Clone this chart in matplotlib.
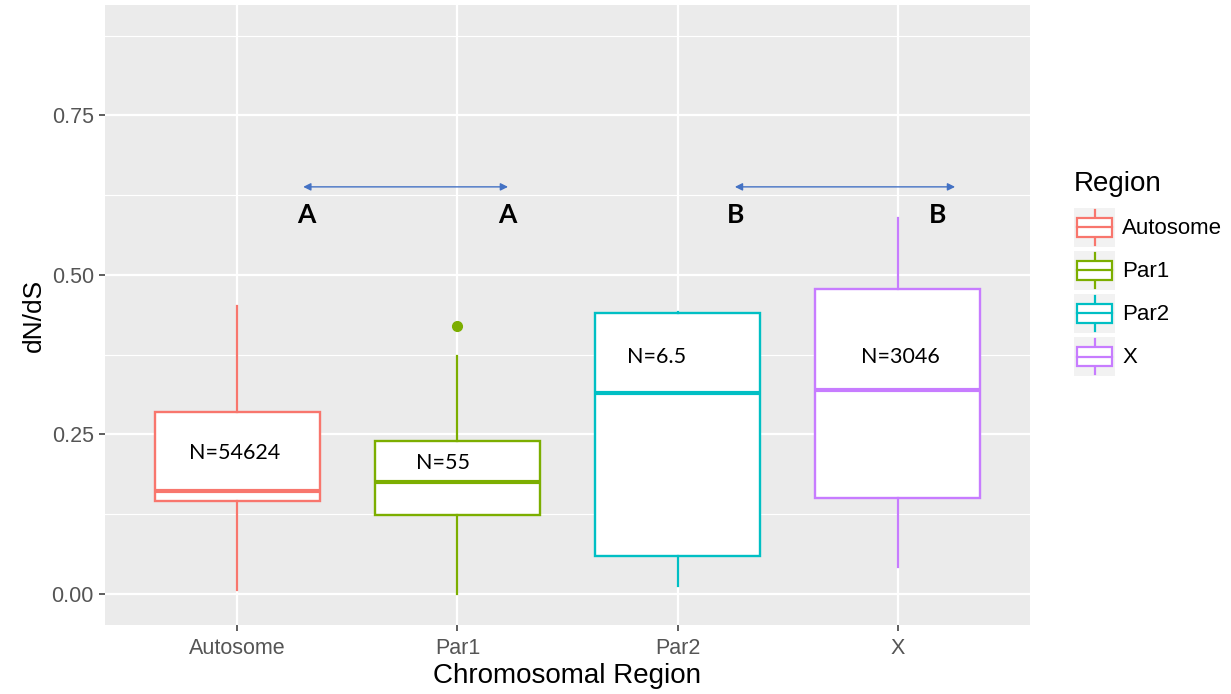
import matplotlib as mpl
import matplotlib.pyplot as plt
from matplotlib.legend_handler import HandlerBase
from matplotlib.patches import Rectangle
from matplotlib.lines import Line2D

REGIONS = ["Autosome", "Par1", "Par2", "X"]
COLORS = ["#F8766D", "#7CAE00", "#00BFC4", "#C77CFF"]

WHISK_LO = [0.006, 0.000, 0.0125, 0.043]
Q1 = [0.146, 0.124, 0.060, 0.151]
MEDIAN = [0.162, 0.175, 0.3155, 0.320]
Q3 = [0.285, 0.239, 0.440, 0.4775]
WHISK_HI = [0.451, 0.373, 0.442, 0.589]
OUTLIERS = [[], [0.420], [], []]

N_LABELS = ["N=54624", "N=55", "N=6.5", "N=3046"]
N_POS = [(0.99, 0.221), (1.935, 0.206), (2.905, 0.372), (4.01, 0.372)]

GROUP_ARROWS = [(1.30, 2.23, 0.638), (3.26, 4.26, 0.638)]
GROUP_LETTERS = [("A", 1.315, 0.594), ("A", 2.225, 0.594),
                 ("B", 3.265, 0.594), ("B", 4.18, 0.594)]

INK, TICK = "#000000", "#555555"
PANEL, GRID = "#EBEBEB", "#FFFFFF"


class BoxHandler(HandlerBase):
    def __init__(self, color):
        super().__init__()
        self.color = color

    def create_artists(self, legend, orig, xd, yd, w, h, fs, trans):
        x0, y0 = -xd, -yd
        bg = Rectangle((x0, y0), w, h, fc="#F2F2F2", ec="none", transform=trans)
        bx0, bx1 = x0 + 0.08 * w, x0 + 0.92 * w
        by0, by1 = y0 + 0.25 * h, y0 + 0.75 * h
        box = Rectangle((bx0, by0), bx1 - bx0, by1 - by0, fc="white",
                        ec=self.color, lw=1.6, transform=trans)
        cx, cy = x0 + w / 2, y0 + h / 2
        med = Line2D([bx0, bx1], [cy, cy], color=self.color, lw=1.6, transform=trans)
        w_lo = Line2D([cx, cx], [y0 + 0.05 * h, by0], color=self.color, lw=1.6, transform=trans)
        w_hi = Line2D([cx, cx], [by1, y0 + 0.95 * h], color=self.color, lw=1.6, transform=trans)
        return [bg, w_lo, w_hi, box, med]


def main():
    mpl.rcParams.update({"font.family": ["Liberation Sans", "DejaVu Sans"]})
    fig = plt.figure(figsize=(12.31, 6.94), dpi=100)
    ax = fig.add_axes([0.0853, 0.0994, 0.7514, 0.8934])
    ax.set_facecolor(PANEL)
    for s in ax.spines.values():
        s.set_visible(False)

    ax.set_xlim(0.4, 4.6)
    ax.set_ylim(-0.0486, 0.923)
    ax.set_yticks([0, 0.25, 0.5, 0.75])
    ax.set_yticklabels(["0.00", "0.25", "0.50", "0.75"])
    ax.set_yticks([0.125, 0.375, 0.625, 0.875], minor=True)
    ax.set_xticks(range(1, len(REGIONS) + 1))
    ax.set_xticklabels(REGIONS)
    ax.grid(True, which="major", color=GRID, lw=1.6)
    ax.grid(True, which="minor", axis="y", color=GRID, lw=0.8)
    ax.set_axisbelow(True)
    ax.tick_params(which="major", length=4, width=1.1, color="#333333",
                   labelcolor=TICK, labelsize=15.5, pad=4)
    ax.tick_params(axis="x", which="major", pad=5)
    ax.tick_params(which="minor", length=0)

    stats = []
    for i, name in enumerate(REGIONS):
        stats.append(dict(label=name, whislo=WHISK_LO[i], q1=Q1[i], med=MEDIAN[i],
                          q3=Q3[i], whishi=WHISK_HI[i], fliers=OUTLIERS[i]))
    for i, st in enumerate(stats):
        c = COLORS[i]
        ax.bxp([st], positions=[i + 1], widths=0.75, showcaps=False, patch_artist=True,
               boxprops=dict(facecolor="white", edgecolor=c, lw=1.7),
               medianprops=dict(color=c, lw=3.0),
               whiskerprops=dict(color=c, lw=1.6),
               flierprops=dict(marker="o", markerfacecolor=c, markeredgecolor=c,
                               markersize=7),
               manage_ticks=False, zorder=3)

    for txt, (x, y) in zip(N_LABELS, N_POS):
        ax.text(x, y, txt, ha="center", va="center", fontsize=15.5,
                family=["Lato", "DejaVu Sans"], color=INK, zorder=5)

    for x0, x1, y in GROUP_ARROWS:
        ax.annotate("", xy=(x1, y), xytext=(x0, y),
                    arrowprops=dict(arrowstyle="<|-|>", color="#4472C4", lw=1.0,
                                    mutation_scale=11, shrinkA=0, shrinkB=0),
                    zorder=5)
    for txt, x, y in GROUP_LETTERS:
        ax.text(x, y, txt, ha="center", va="center", fontsize=19, fontweight="bold",
                family=["Lato", "DejaVu Sans"], color=INK, zorder=5)

    ax.set_xlabel("Chromosomal Region", fontsize=20, color=INK, labelpad=3)
    ax.set_ylabel("dN/dS", fontsize=19, color=INK, labelpad=4)

    handles = [Rectangle((0, 0), 1, 1) for _ in REGIONS]
    hmap = {h: BoxHandler(c) for h, c in zip(handles, COLORS)}
    leg = fig.legend(handles, REGIONS, handler_map=hmap, title="Region",
                     loc="upper left", bbox_to_anchor=(0.8725, 0.754),
                     frameon=False, fontsize=16, title_fontsize=20,
                     handlelength=1.86, handleheight=2.3, labelspacing=0.2,
                     handletextpad=0.3, borderaxespad=0, borderpad=0)
    leg._legend_box.align = "left"
    leg._legend_box.sep = 8

    fig.savefig("out.png", dpi=100, facecolor="white")


if __name__ == "__main__":
    main()
